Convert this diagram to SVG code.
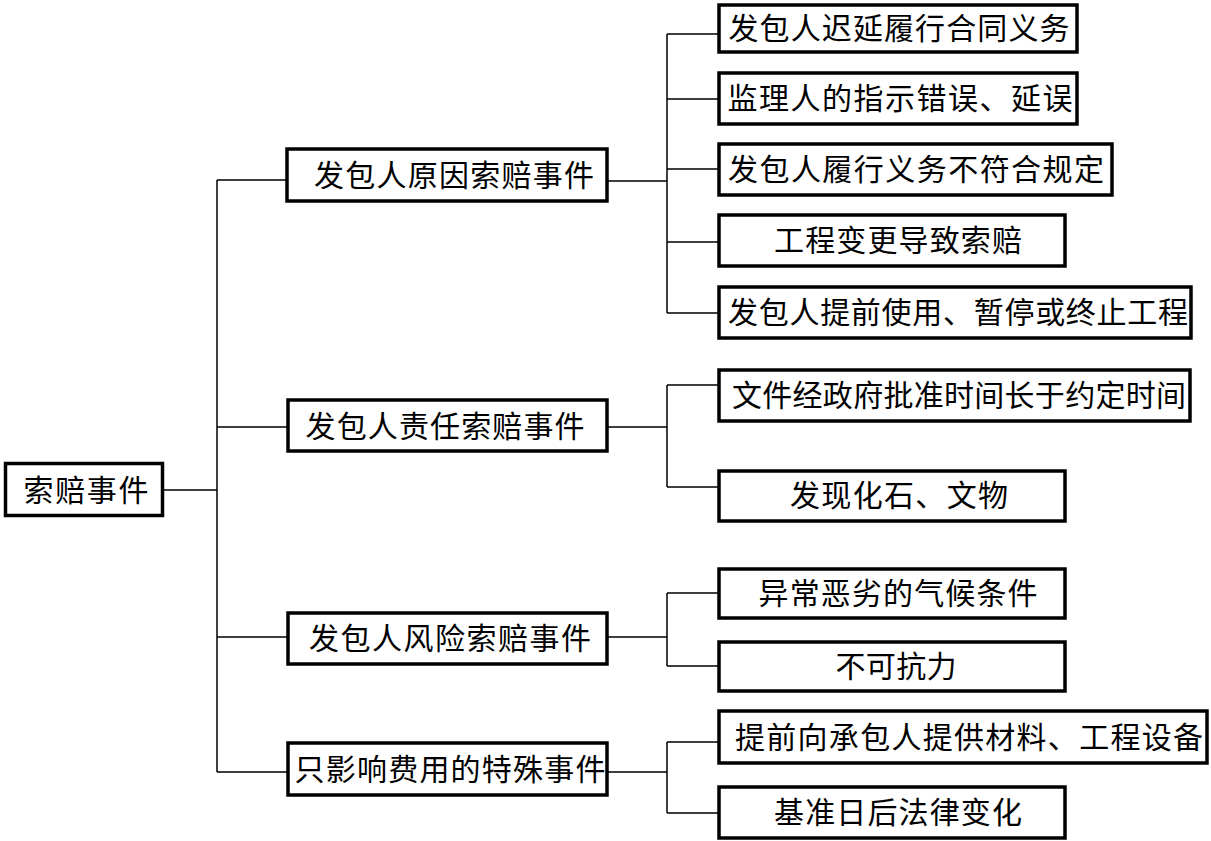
<svg xmlns="http://www.w3.org/2000/svg" width="1211" height="841" viewBox="0 0 1211 841">
<style>
.box{fill:#fff;stroke:#000;stroke-width:3.5}
.t{font-family:"Liberation Serif","Noto Sans CJK SC",serif;font-size:30px;fill:#000;text-anchor:middle}
.c{fill:none;stroke:#000;stroke-width:1.5}
</style>
<rect width="1211" height="841" fill="#fff"/>
<g id="connectors">
<path class="c" d="M163 490H217M217 180V772M217 180H287M217 427H288M217 637H288M217 772H288"/>
<path class="c" d="M607 181H667M667 34V313M667 34H719M667 99H719M667 169H719M667 242H719M667 313H719"/>
<path class="c" d="M607 427H667M667 385V487M667 385H719M667 487H719"/>
<path class="c" d="M607 637H667M667 593V666M667 593H719M667 666H719"/>
<path class="c" d="M607 772H667M667 742V813M667 742H719M667 813H719"/>
</g>
<g id="root"><rect class="box" x="5.5" y="463.5" width="157" height="52"/><text class="t" x="86" y="501" textLength="125" lengthAdjust="spacing">索赔事件</text></g>
<g id="n1"><rect class="box" x="287" y="149" width="320" height="52"/><text class="t" x="454" y="186" textLength="280" lengthAdjust="spacing">发包人原因索赔事件</text></g>
<g id="n2"><rect class="box" x="288" y="400" width="319" height="51"/><text class="t" x="445" y="437" textLength="279" lengthAdjust="spacing">发包人责任索赔事件</text></g>
<g id="n3"><rect class="box" x="288" y="613" width="319" height="51"/><text class="t" x="450" y="649" textLength="282" lengthAdjust="spacing">发包人风险索赔事件</text></g>
<g id="n4"><rect class="box" x="288" y="743" width="319" height="52"/><text class="t" x="450" y="780" textLength="311" lengthAdjust="spacing">只影响费用的特殊事件</text></g>
<g id="n1a"><rect class="box" x="719" y="5" width="358" height="47"/><text class="t" x="899" y="39" textLength="341" lengthAdjust="spacing">发包人迟延履行合同义务</text></g>
<g id="n1b"><rect class="box" x="719" y="73" width="358" height="51"/><text class="t" x="900" y="109" textLength="345" lengthAdjust="spacing">监理人的指示错误、延误</text></g>
<g id="n1c"><rect class="box" x="719" y="144" width="393" height="51"/><text class="t" x="916" y="180" textLength="376" lengthAdjust="spacing">发包人履行义务不符合规定</text></g>
<g id="n1d"><rect class="box" x="719" y="215" width="346" height="51"/><text class="t" x="898" y="251" textLength="248" lengthAdjust="spacing">工程变更导致索赔</text></g>
<g id="n1e"><rect class="box" x="719" y="287" width="472" height="51"/><text class="t" x="958" y="323" textLength="460" lengthAdjust="spacing">发包人提前使用、暂停或终止工程</text></g>
<g id="n2a"><rect class="box" x="719" y="370" width="471" height="51"/><text class="t" x="959" y="406" textLength="454" lengthAdjust="spacing">文件经政府批准时间长于约定时间</text></g>
<g id="n2b"><rect class="box" x="719" y="471" width="346" height="50"/><text class="t" x="899" y="506" textLength="218" lengthAdjust="spacing">发现化石、文物</text></g>
<g id="n3a"><rect class="box" x="719" y="569" width="346" height="49"/><text class="t" x="898" y="604" textLength="279" lengthAdjust="spacing">异常恶劣的气候条件</text></g>
<g id="n3b"><rect class="box" x="719" y="642" width="346" height="49"/><text class="t" x="896" y="677" textLength="121" lengthAdjust="spacing">不可抗力</text></g>
<g id="n4a"><rect class="box" x="719" y="711" width="488" height="52"/><text class="t" x="969" y="748" textLength="468" lengthAdjust="spacing">提前向承包人提供材料、工程设备</text></g>
<g id="n4b"><rect class="box" x="719" y="787" width="346" height="51"/><text class="t" x="898" y="823" textLength="248" lengthAdjust="spacing">基准日后法律变化</text></g>
</svg>
